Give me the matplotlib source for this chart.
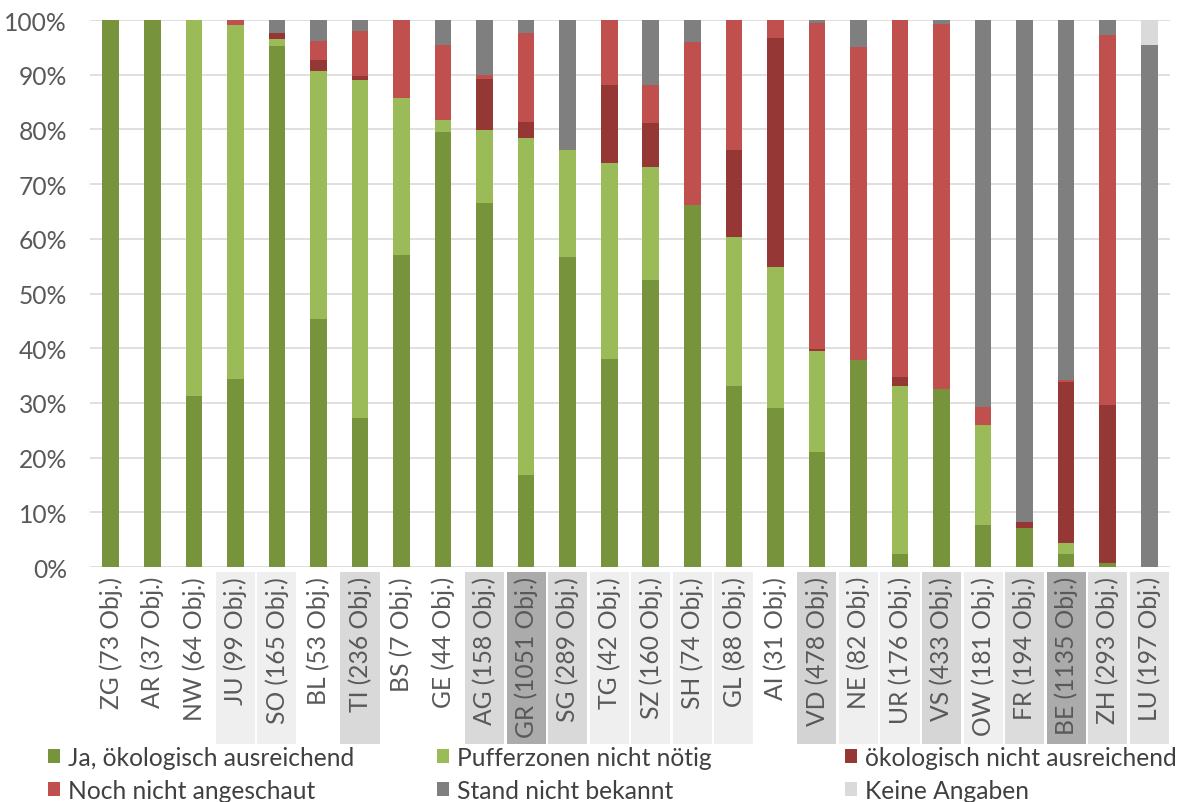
import matplotlib
matplotlib.use("Agg")
import matplotlib.pyplot as plt
from matplotlib.patches import Rectangle, Patch
from matplotlib.transforms import blended_transform_factory
import numpy as np

plt.rcParams['font.family'] = ['Lato', 'DejaVu Sans']

# Cantons with number of objects
categories = ["ZG (73 Obj.)", "AR (37 Obj.)", "NW (64 Obj.)", "JU (99 Obj.)", "SO (165 Obj.)",
              "BL (53 Obj.)", "TI (236 Obj.)", "BS (7 Obj.)", "GE (44 Obj.)", "AG (158 Obj.)",
              "GR (1051 Obj.)", "SG (289 Obj.)", "TG (42 Obj.)", "SZ (160 Obj.)", "SH (74 Obj.)",
              "GL (88 Obj.)", "AI (31 Obj.)", "VD (478 Obj.)", "NE (82 Obj.)", "UR (176 Obj.)",
              "VS (433 Obj.)", "OW (181 Obj.)", "FR (194 Obj.)", "BE (1135 Obj.)", "ZH (293 Obj.)",
              "LU (197 Obj.)"]

# Shares in percent per status
ja_ausreichend = [100, 100, 31.3, 34.3, 95.2, 45.4, 27.2, 57.1, 79.5, 66.5, 16.8, 56.7, 38.1,
                  52.5, 66.2, 33.0, 29.0, 21.1, 37.8, 2.3, 32.6, 7.7, 7.2, 2.3, 0.7, 0]
pufferzonen_nicht_noetig = [0, 0, 68.7, 64.7, 1.3, 45.3, 61.9, 28.6, 2.3, 13.3, 61.6, 19.5, 35.7,
                            20.6, 0, 27.3, 25.8, 18.4, 0, 30.7, 0, 18.2, 0, 2.1, 0, 0]
nicht_ausreichend = [0, 0, 0, 0, 1.2, 1.9, 0.7, 0, 0, 9.5, 3.0, 0, 14.3,
                     8.1, 0, 15.9, 41.9, 0.4, 0, 1.7, 0, 0, 1.0, 29.4, 29.0, 0]
noch_nicht_angeschaut = [0, 0, 0, 1.0, 0, 3.6, 8.1, 14.3, 13.6, 0.6, 16.3, 0, 11.9,
                         6.9, 29.7, 23.8, 3.3, 59.5, 57.3, 65.3, 66.7, 3.3, 0, 0.4, 67.6, 0]
stand_nicht_bekannt = [0, 0, 0, 0, 2.3, 3.8, 2.1, 0, 4.6, 10.1, 2.3, 23.8, 0,
                       11.9, 4.1, 0, 0, 0.6, 4.9, 0, 0.7, 70.8, 91.8, 65.8, 2.7, 95.4]
keine_angaben = [0, 0, 0, 0, 0, 0, 0, 0, 0, 0, 0, 0, 0,
                 0, 0, 0, 0, 0, 0, 0, 0, 0, 0, 0, 0, 4.6]

# Shade of the box behind each category label (None = no box)
label_shades = [None, None, None, "#efefef", "#efefef", None, "#d9d9d9", None, None, "#d9d9d9",
                "#ababab", "#d9d9d9", "#efefef", "#efefef", "#efefef", "#efefef", None, "#d3d3d3",
                "#efefef", "#efefef", "#d6d6d6", "#efefef", "#dcdcdc", "#ababab", "#dedede",
                "#e3e3e3"]

series = [
    ("Ja, ökologisch ausreichend", ja_ausreichend, "#77933C"),
    ("Pufferzonen nicht nötig", pufferzonen_nicht_noetig, "#9BBB59"),
    ("ökologisch nicht ausreichend", nicht_ausreichend, "#953735"),
    ("Noch nicht angeschaut", noch_nicht_angeschaut, "#C0504D"),
    ("Stand nicht bekannt", stand_nicht_bekannt, "#7F7F7F"),
    ("Keine Angaben", keine_angaben, "#DADADA"),
]

FS = 17.7
W, H = 1180, 803
fig = plt.figure(figsize=(W / 100, H / 100), dpi=100)
ax = fig.add_axes([90 / W, 1 - 568 / H, 1080 / W, 547 / H])

x = np.arange(len(categories))
bottom = np.zeros(len(categories))
handles = {}
for name, vals, color in series:
    vals = np.array(vals, dtype=float)
    ax.bar(x, vals, width=0.4, bottom=bottom, color=color, zorder=3, linewidth=0)
    bottom += vals
    handles[name] = Patch(facecolor=color, edgecolor='none', label=name)

ax.set_xlim(-0.5, len(categories) - 0.5)
ax.set_ylim(0, 100)
ax.set_yticks(np.arange(0, 101, 10))
ax.set_yticklabels([f"{v}%" for v in range(0, 101, 10)])
ax.yaxis.grid(True, color="#d9d9d9", linewidth=1.2, zorder=0)
ax.set_axisbelow(True)
for s in ax.spines.values():
    s.set_visible(False)
ax.tick_params(axis='y', length=0, pad=16.5, labelsize=FS, labelcolor="#595959")
ax.tick_params(axis='x', length=0, pad=6.5, labelsize=FS, labelcolor="#595959")
ax.set_xticks(x)
ax.set_xticklabels(categories, rotation=90, va='top', ha='center')

# Shaded boxes behind the category labels
trans = blended_transform_factory(ax.transData, ax.transAxes)
box_top = -5 / 547
box_bot = -177 / 547
for xi, shade in zip(x, label_shades):
    if shade is None:
        continue
    ax.add_patch(Rectangle((xi - 0.47, box_bot), 0.94, box_top - box_bot, transform=trans,
                           facecolor=shade, edgecolor='none', clip_on=False, zorder=0))

# Legend laid out in three columns of two rows
cols = [
    (["Ja, ökologisch ausreichend", "Noch nicht angeschaut"], 48),
    (["Pufferzonen nicht nötig", "Stand nicht bekannt"], 437),
    (["ökologisch nicht ausreichend", "Keine Angaben"], 845),
]
for names, xpx in cols:
    leg = fig.legend(handles=[handles[n] for n in names], loc='upper left',
                     bbox_to_anchor=(xpx / W, 1 - 747 / H), frameon=False,
                     fontsize=FS, handlelength=0.5, handleheight=0.5,
                     handletextpad=0.3, labelspacing=0.4, borderaxespad=0,
                     borderpad=0)
    for t in leg.get_texts():
        t.set_color("#404040")

fig.savefig("out.png", dpi=100)
